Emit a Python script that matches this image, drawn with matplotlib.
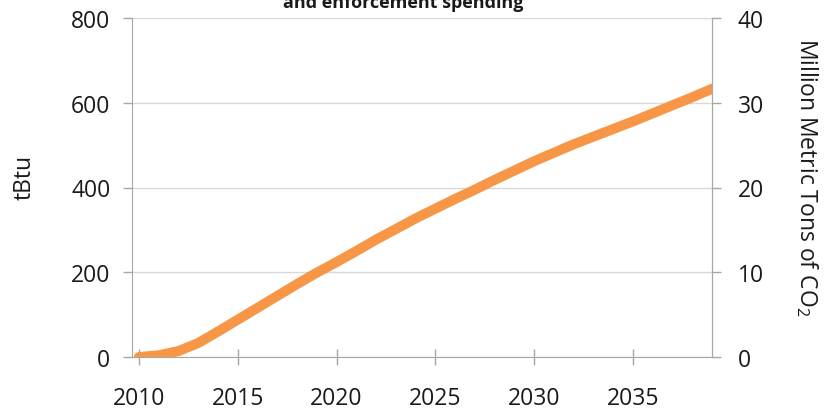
import matplotlib
matplotlib.use("Agg")
import matplotlib.pyplot as plt

plt.rcParams['font.family'] = ['Open Sans', 'DejaVu Sans']
plt.rcParams['mathtext.fontset'] = 'custom'
plt.rcParams['mathtext.rm'] = 'Open Sans'

years = list(range(2010, 2040))
tbtu = [0, 4, 14, 33, 60, 88, 116, 144, 172, 199,
        224, 250, 277, 302, 327, 350, 373, 395, 418, 440,
        462, 482, 502, 520, 538, 556, 575, 594, 613, 633]
x_ticks = [2010, 2015, 2020, 2025, 2030, 2035]
left_ticks = [0, 200, 400, 600, 800]
right_ticks = [0, 10, 20, 30, 40]

title = "and enforcement spending"
left_label = "tBtu"
right_label = "Million Metric Tons of CO$_\\mathregular{2}$"

W, H = 829, 414
fig = plt.figure(figsize=(W / 100, H / 100), dpi=100)
ax = fig.add_axes([132 / W, 1 - 358 / H, (712 - 132) / W, (358 - 19) / H])

ax.plot(years, tbtu, color='#F79646', lw=7.2, solid_capstyle='round', zorder=3)

ax.set_xlim(2009.65, 2039.0)
ax.set_ylim(0, 800)
ax.set_xticks(x_ticks)
ax.set_yticks(left_ticks)
ax.grid(axis='y', color='#D9D9D9', lw=1.0)
ax.set_axisbelow(True)

spine_c = '#A6A6A6'
ax.spines['top'].set_visible(False)
ax.spines['left'].set_color(spine_c)
ax.spines['bottom'].set_color(spine_c)
ax.spines['right'].set_color(spine_c)

ax.tick_params(axis='x', direction='inout', length=12, width=1, color=spine_c,
               labelsize=16.5, labelcolor='#1a1a1a', pad=15)
ax.tick_params(axis='y', direction='out', length=6.5, width=1, color=spine_c,
               labelsize=16.5, labelcolor='#1a1a1a', pad=9)

ax2 = ax.twinx()
ax2.set_ylim(0, 40)
ax2.set_yticks(right_ticks)
for s in ['top', 'left', 'bottom']:
    ax2.spines[s].set_visible(False)
ax2.spines['right'].set_color(spine_c)
ax2.tick_params(axis='y', direction='out', length=6.5, width=1, color=spine_c,
                labelsize=16.5, labelcolor='#1a1a1a', pad=12)

fig.text(25 / W, 1 - 177 / H, left_label, rotation=90, ha='center', va='center',
         fontsize=16.5, color='#1a1a1a')
fig.text(807 / W, 1 - 177 / H, right_label, rotation=270, ha='center', va='center',
         fontsize=16.5, color='#1a1a1a')
fig.text(403 / W, 1 - 8 / H, title, ha='center', va='baseline',
         fontsize=13, fontweight='bold', color='#1a1a1a')

fig.savefig('out.png', dpi=100, facecolor='white')
